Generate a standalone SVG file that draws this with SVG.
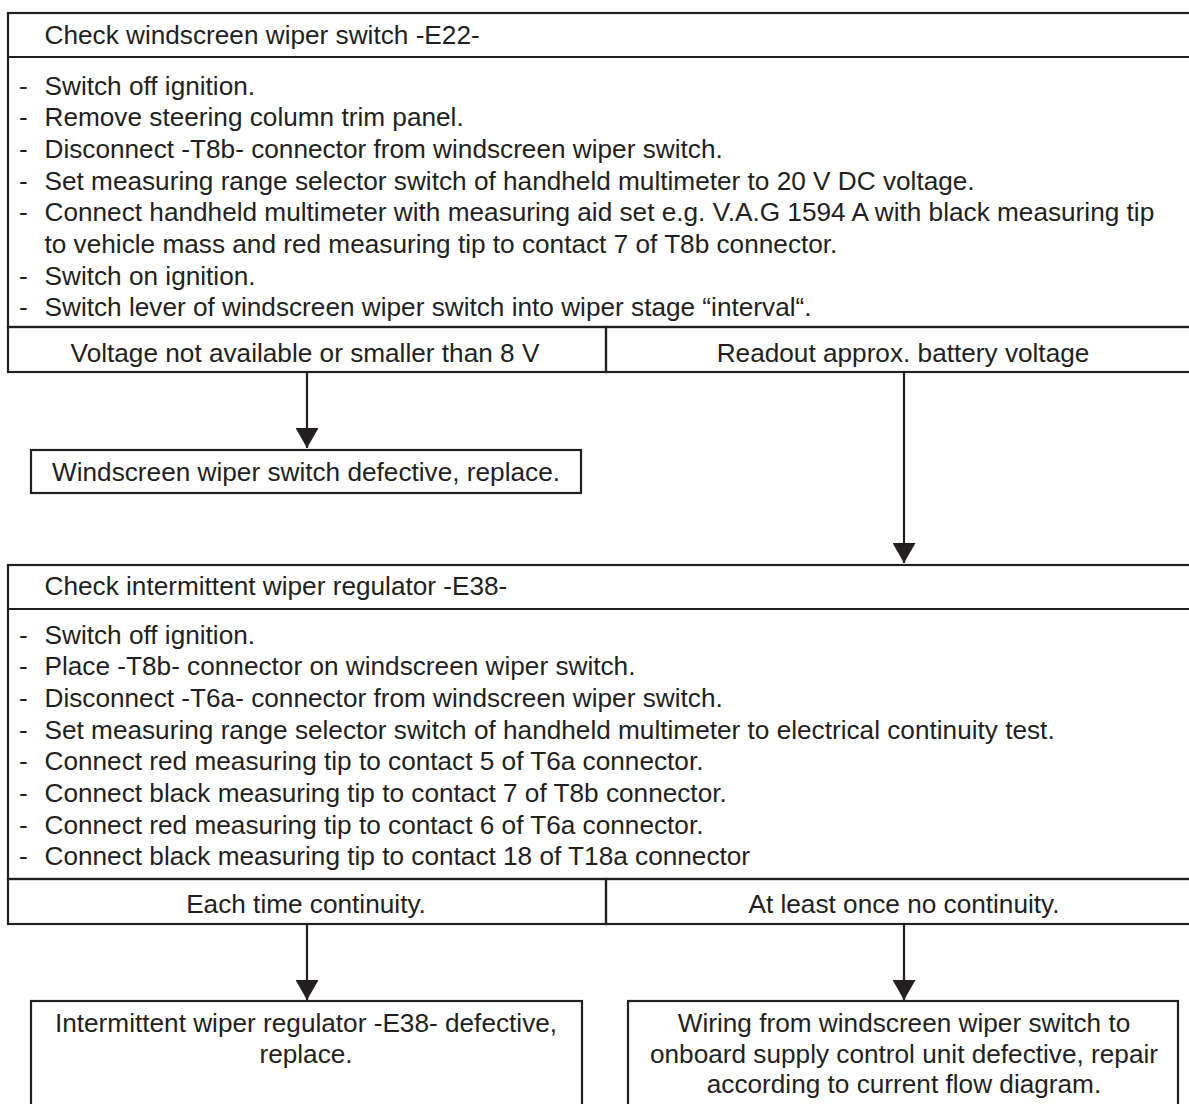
<svg xmlns="http://www.w3.org/2000/svg" width="1189" height="1104" viewBox="0 0 1189 1104">
<style>
  .box{fill:none;stroke:#231f20;stroke-width:2.2}
  .ln{stroke:#231f20;stroke-width:2.2;fill:none}
  .t{font-family:"Liberation Sans",Arial,Helvetica,sans-serif;font-size:26.2px;fill:#231f20}
  .c{text-anchor:middle}
  .conn{stroke:#231f20;stroke-width:2.2;fill:none;marker-end:url(#ah)}
</style>
<defs>
  <marker id="ah" markerUnits="userSpaceOnUse" markerWidth="20" markerHeight="23" viewBox="0 0 20 23" refX="20" refY="11.5" orient="auto">
    <path d="M0,0 L20,11.5 L0,23 z" fill="#231f20"/>
  </marker>
</defs>
<rect width="1189" height="1104" fill="#ffffff"/>

<g id="check-e22">
  <rect class="box" x="8" y="13" width="1195" height="314"/>
  <line class="ln" x1="8" y1="57" x2="1203" y2="57"/>
  <text class="t" x="44.5" y="43.5">Check windscreen wiper switch -E22-</text>
  <g class="t">
    <text x="19" y="94.5">-</text><text x="44.5" y="94.5">Switch off ignition.</text>
    <text x="19" y="126.2">-</text><text x="44.5" y="126.2">Remove steering column trim panel.</text>
    <text x="19" y="157.9">-</text><text x="44.5" y="157.9">Disconnect -T8b- connector from windscreen wiper switch.</text>
    <text x="19" y="189.6">-</text><text x="44.5" y="189.6">Set measuring range selector switch of handheld multimeter to 20 V DC voltage.</text>
    <text x="19" y="221.3">-</text><text x="44.5" y="221.3">Connect handheld multimeter with measuring aid set e.g. V.A.G 1594 A with black measuring tip</text>
    <text x="44.5" y="253">to vehicle mass and red measuring tip to contact 7 of T8b connector.</text>
    <text x="19" y="284.7">-</text><text x="44.5" y="284.7">Switch on ignition.</text>
    <text x="19" y="316.4">-</text><text x="44.5" y="316.4">Switch lever of windscreen wiper switch into wiper stage “interval“.</text>
  </g>
</g>

<g id="e22-low-voltage">
  <rect class="box" x="8" y="327" width="598" height="45"/>
  <text class="t c" x="305" y="362">Voltage not available or smaller than 8 V</text>
</g>
<g id="e22-battery-voltage">
  <rect class="box" x="606" y="327" width="597" height="45"/>
  <text class="t c" x="903" y="362">Readout approx. battery voltage</text>
</g>

<g id="e22-replace">
  <rect class="box" x="31" y="450" width="550" height="43"/>
  <text class="t c" x="306" y="480.5">Windscreen wiper switch defective, replace.</text>
</g>

<g id="check-e38">
  <rect class="box" x="8" y="565" width="1195" height="314"/>
  <line class="ln" x1="8" y1="609" x2="1203" y2="609"/>
  <text class="t" x="44.5" y="594.5">Check intermittent wiper regulator -E38-</text>
  <g class="t">
    <text x="19" y="643.5">-</text><text x="44.5" y="643.5">Switch off ignition.</text>
    <text x="19" y="675.2">-</text><text x="44.5" y="675.2">Place -T8b- connector on windscreen wiper switch.</text>
    <text x="19" y="706.9">-</text><text x="44.5" y="706.9">Disconnect -T6a- connector from windscreen wiper switch.</text>
    <text x="19" y="738.6">-</text><text x="44.5" y="738.6">Set measuring range selector switch of handheld multimeter to electrical continuity test.</text>
    <text x="19" y="770.3">-</text><text x="44.5" y="770.3">Connect red measuring tip to contact 5 of T6a connector.</text>
    <text x="19" y="802">-</text><text x="44.5" y="802">Connect black measuring tip to contact 7 of T8b connector.</text>
    <text x="19" y="833.7">-</text><text x="44.5" y="833.7">Connect red measuring tip to contact 6 of T6a connector.</text>
    <text x="19" y="865.4">-</text><text x="44.5" y="865.4">Connect black measuring tip to contact 18 of T18a connector</text>
  </g>
</g>

<g id="e38-continuity">
  <rect class="box" x="8" y="879" width="598" height="45"/>
  <text class="t c" x="306" y="913">Each time continuity.</text>
</g>
<g id="e38-no-continuity">
  <rect class="box" x="606" y="879" width="597" height="45"/>
  <text class="t c" x="904" y="913">At least once no continuity.</text>
</g>

<g id="e38-replace">
  <rect class="box" x="31" y="1001" width="551" height="120"/>
  <text class="t c" x="306" y="1032">Intermittent wiper regulator -E38- defective,</text>
  <text class="t c" x="306" y="1062.5">replace.</text>
</g>

<g id="wiring-repair">
  <rect class="box" x="628" y="1001" width="550" height="120"/>
  <text class="t c" x="904" y="1032">Wiring from windscreen wiper switch to</text>
  <text class="t c" x="904" y="1062.5">onboard supply control unit defective, repair</text>
  <text class="t c" x="904" y="1093">according to current flow diagram.</text>
</g>

<g id="connectors">
  <line class="conn" x1="307" y1="372" x2="307" y2="448"/>
  <line class="conn" x1="904" y1="372" x2="904" y2="563"/>
  <line class="conn" x1="307" y1="924" x2="307" y2="1000"/>
  <line class="conn" x1="904" y1="924" x2="904" y2="1000"/>
</g>
</svg>
